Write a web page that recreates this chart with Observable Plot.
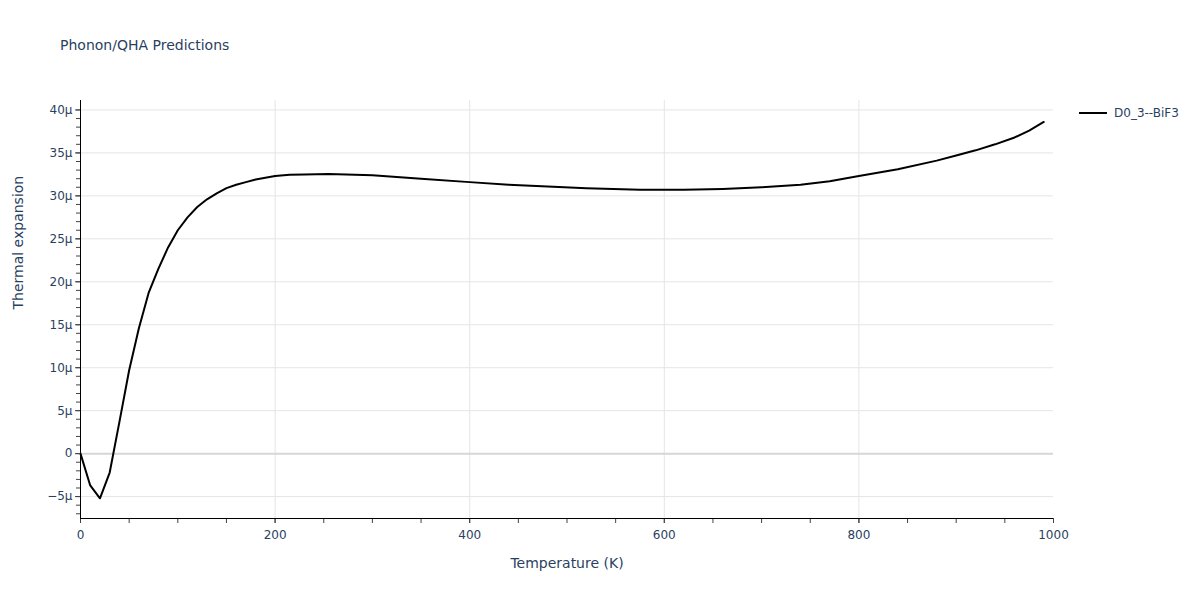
<!DOCTYPE html>
<html>
<head>
<meta charset="utf-8">
<script src="https://cdn.jsdelivr.net/npm/d3@7"></script>
<script src="https://cdn.jsdelivr.net/npm/@observablehq/plot@0.6"></script>
<style>
  html, body { margin: 0; padding: 0; background: #fff; }
  #wrap { position: relative; width: 1200px; height: 600px; font-family: "DejaVu Sans", sans-serif; color: #2a3f5f; }
  #title { position: absolute; left: 60px; top: 37px; font-size: 14px; white-space: nowrap; }
  #legend { position: absolute; left: 1078px; top: 106px; font-size: 12px; display: flex; align-items: center; white-space: nowrap; }
  #legend svg { margin-right: 6px; }
  #chart { position: absolute; left: 0; top: 0; }
</style>
</head>
<body>
<div id="wrap">
  <div id="chart"></div>
  <div id="title">Phonon/QHA Predictions</div>
  <div id="legend"><svg width="30" height="4"><line x1="1" y1="2" x2="29" y2="2" stroke="#000" stroke-width="2"/></svg><span>D0_3--BiF3</span></div>
</div>
<script>
const seriesName = "D0_3--BiF3";
const temperature = [0, 10, 20, 30, 40, 50, 60, 70, 80, 90, 100, 110, 120, 130, 140, 150, 160, 170, 180, 190, 200, 215, 230, 255, 300, 350, 400, 440, 480, 520, 575, 620, 660, 700, 740, 770, 800, 840, 880, 900, 920, 940, 960, 975, 990];
const expansionMicro = [0, -3.7, -5.2, -2.2, 3.7, 9.7, 14.6, 18.7, 21.5, 24.0, 26.0, 27.5, 28.7, 29.6, 30.3, 30.9, 31.3, 31.6, 31.9, 32.1, 32.3, 32.45, 32.5, 32.55, 32.4, 32.0, 31.6, 31.3, 31.1, 30.9, 30.7, 30.7, 30.8, 31.0, 31.3, 31.7, 32.3, 33.1, 34.1, 34.7, 35.3, 36.0, 36.8, 37.6, 38.6];
const xMajorTicks = [0, 200, 400, 600, 800, 1000];
const yMajorTicksMicro = [-5, 0, 5, 10, 15, 20, 25, 30, 35, 40];

const data = temperature.map((t, i) => ({t, v: expansionMicro[i] * 1e-6}));
const yMajor = yMajorTicksMicro.map(d => d * 1e-6);
const yMinor = d3.range(-7, 41, 1).map(d => d * 1e-6);
const xMinor = d3.range(0, 1001, 50);
const yLo = -7.55e-6, yHi = 41.1e-6;
const fmtY = d => { const m = Math.round(d * 1e6); return m === 0 ? "0" : (m < 0 ? "\u2212" + (-m) : m) + "\u03bc"; };

const chart = Plot.plot({
  width: 1200,
  height: 600,
  marginLeft: 80,
  marginRight: 147,
  marginTop: 100,
  marginBottom: 82,
  style: {fontFamily: "DejaVu Sans, sans-serif", fontSize: "12px", color: "#2a3f5f", background: "transparent"},
  x: {domain: [0, 1000], label: null},
  y: {domain: [yLo, yHi], label: null},
  marks: [
    Plot.gridX([200, 400, 600, 800], {stroke: "#e5e5e5", strokeOpacity: 1}),
    Plot.gridY(yMajor.filter(d => d !== 0), {stroke: "#e5e5e5", strokeOpacity: 1}),
    Plot.ruleY([0], {stroke: "#d6d6d6", strokeWidth: 2}),
    Plot.line(data, {x: "t", y: "v", stroke: "#000", strokeWidth: 2}),
    Plot.axisX(xMinor, {tickSize: 5, tickFormat: () => "", label: null, stroke: "#444"}),
    Plot.axisX(xMajorTicks, {tickSize: 5, tickPadding: 7, tickFormat: d => String(d), label: null, fill: "#2a3f5f", stroke: "#444"}),
    Plot.axisY(yMinor, {tickSize: 4, tickFormat: () => "", label: null, stroke: "#444"}),
    Plot.axisY(yMajor, {tickSize: 5, tickPadding: 3, tickFormat: fmtY, label: null, fill: "#2a3f5f", stroke: "#444"}),
    Plot.ruleX([0], {stroke: "#000", strokeWidth: 1}),
    Plot.ruleY([yLo], {stroke: "#000", strokeWidth: 1}),
    Plot.text(["Temperature (K)"], {frameAnchor: "bottom", dy: 49, fontSize: 14, fill: "#2a3f5f"}),
    Plot.text(["Thermal expansion"], {frameAnchor: "left", dx: -62, rotate: -90, fontSize: 14, fill: "#2a3f5f"})
  ]
});
document.getElementById("chart").appendChild(chart);
</script>
</body>
</html>
